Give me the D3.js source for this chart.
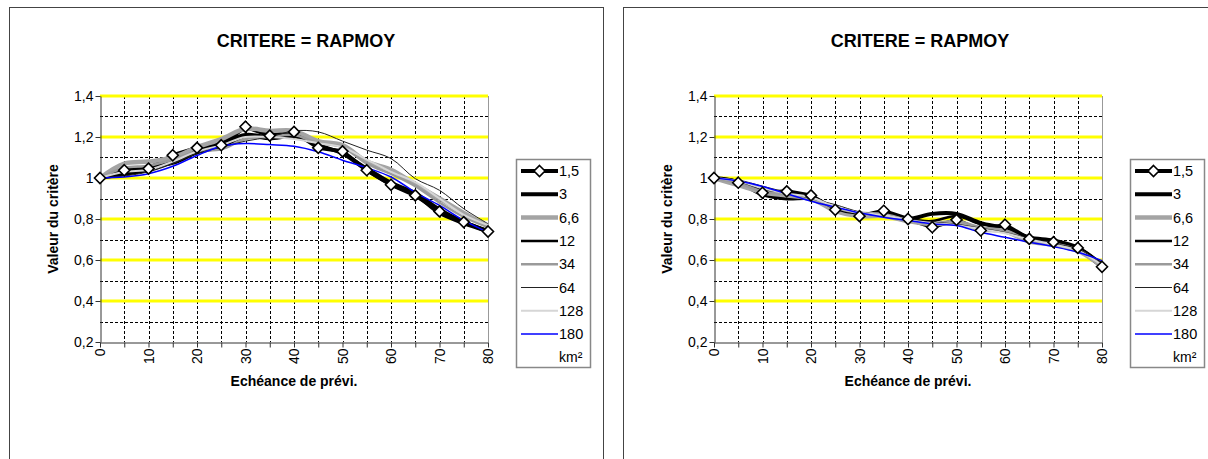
<!DOCTYPE html>
<html>
<head>
<meta charset="utf-8">
<script src="https://cdn.jsdelivr.net/npm/d3@7/dist/d3.min.js"></script>
<style>
    body { margin: 0; background: #fff; }
    svg { display: block; font-family: "Liberation Sans", Arial, sans-serif; }
</style>
</head>
<body>
<svg id="chart" width="1208" height="459"></svg>
<script>
(function () {
    'use strict';

    // échéances (x) et surfaces (légende)
    var echeances = [0, 5, 10, 15, 20, 25, 30, 35, 40, 45, 50, 55, 60, 65, 70, 75, 80];
    var surfaces = ["1,5", "3", "6,6", "12", "34", "64", "128", "180"];
    var yTicks = [0.2, 0.4, 0.6, 0.8, 1, 1.2, 1.4];
    var yDashed = [0.3, 0.5, 0.7, 0.9, 1.1, 1.3];

    // panneau de gauche
    var g1_5 = [1.0, 1.038, 1.046, 1.111, 1.147, 1.16, 1.25, 1.207, 1.225, 1.147, 1.13, 1.038, 0.967, 0.915, 0.837, 0.785, 0.739];
    var g3 = [1.0, 1.02, 1.04, 1.08, 1.13, 1.17, 1.21, 1.2, 1.21, 1.16, 1.12, 1.04, 0.97, 0.92, 0.83, 0.78, 0.74];
    var g6_6 = [1.0, 1.07, 1.08, 1.1, 1.15, 1.19, 1.24, 1.23, 1.23, 1.18, 1.16, 1.08, 1.04, 0.97, 0.9, 0.83, 0.765];
    var g12 = [1.0, 1.02, 1.05, 1.07, 1.12, 1.15, 1.2, 1.19, 1.2, 1.16, 1.12, 1.05, 0.98, 0.93, 0.85, 0.79, 0.745];
    var g34 = [1.0, 1.05, 1.06, 1.09, 1.13, 1.14, 1.19, 1.2, 1.21, 1.17, 1.15, 1.07, 1.02, 0.96, 0.88, 0.81, 0.76];
    var g64 = [1.0, 1.01, 1.03, 1.07, 1.12, 1.15, 1.18, 1.2, 1.23, 1.225, 1.18, 1.136, 1.095, 0.997, 0.94, 0.85, 0.777];
    var g128 = [1.0, 1.03, 1.04, 1.08, 1.13, 1.16, 1.2, 1.2, 1.19, 1.17, 1.15, 1.09, 1.03, 0.98, 0.9, 0.82, 0.77];
    var g180 = [1.0, 1.005, 1.021, 1.057, 1.11, 1.155, 1.168, 1.163, 1.155, 1.128, 1.087, 1.05, 1.005, 0.93, 0.866, 0.793, 0.735];

    // panneau de droite
    var d1_5 = [1.0, 0.977, 0.928, 0.935, 0.915, 0.845, 0.814, 0.84, 0.8, 0.76, 0.796, 0.744, 0.772, 0.703, 0.687, 0.659, 0.567];
    var d3_ = [1.0, 0.98, 0.92, 0.9, 0.9, 0.845, 0.82, 0.82, 0.8, 0.825, 0.825, 0.78, 0.755, 0.71, 0.695, 0.66, 0.575];
    var d6_6 = [1.0, 0.965, 0.93, 0.915, 0.9, 0.84, 0.815, 0.815, 0.79, 0.775, 0.78, 0.75, 0.74, 0.69, 0.675, 0.645, 0.57];
    var d12 = [1.0, 0.985, 0.94, 0.925, 0.91, 0.85, 0.825, 0.83, 0.8, 0.79, 0.815, 0.775, 0.76, 0.7, 0.69, 0.66, 0.58];
    var d34 = [1.0, 0.975, 0.935, 0.92, 0.905, 0.855, 0.83, 0.825, 0.795, 0.78, 0.79, 0.76, 0.745, 0.695, 0.68, 0.65, 0.575];
    var d64 = [1.0, 0.99, 0.96, 0.93, 0.9, 0.87, 0.835, 0.82, 0.8, 0.785, 0.775, 0.755, 0.735, 0.705, 0.68, 0.655, 0.58];
    var d128 = [1.0, 0.985, 0.95, 0.925, 0.905, 0.86, 0.83, 0.82, 0.795, 0.78, 0.77, 0.75, 0.73, 0.7, 0.675, 0.645, 0.575];
    var d180 = [1.0, 0.985, 0.959, 0.923, 0.887, 0.858, 0.83, 0.809, 0.793, 0.776, 0.768, 0.735, 0.711, 0.687, 0.665, 0.638, 0.597];

    // style de chaque série (dans l'ordre de la légende)
    var styles = [
        { color: "#000", width: 4, marker: true },
        { color: "#000", width: 4 },
        { color: "#a4a4a4", width: 4.5 },
        { color: "#000", width: 2.5 },
        { color: "#9a9a9a", width: 2.5 },
        { color: "#222", width: 1 },
        { color: "#d6d6d6", width: 2 },
        { color: "#0000ff", width: 1.5 }
    ];

    var svg = d3.select("#chart");
    var diamond = "M0,-5.5L5.5,0L0,5.5L-5.5,0Z";

    function fmt(v) {
        return String(+v.toFixed(1)).replace(".", ",");
    }

    function drawPanel(ox, series) {
        var p = svg.append("g");

        // cadre du graphique
        p.append("rect")
            .attr("x", ox + 0.5).attr("y", 7.5)
            .attr("width", 594).attr("height", 470)
            .attr("fill", "#fff").attr("stroke", "#444");

        var x = d3.scaleLinear().domain([0, 80]).range([ox + 91, ox + 479]);
        var y = d3.scaleLinear().domain([0.2, 1.4]).range([342, 96]);

        // quadrillage
        p.selectAll(".vgrid")
            .data(echeances.filter(function (d) { return d > 0 && d < 80; }))
            .enter().append("line")
            .attr("x1", function (d) { return Math.round(x(d)) + 0.5; })
            .attr("x2", function (d) { return Math.round(x(d)) + 0.5; })
            .attr("y1", y(1.4)).attr("y2", y(0.2))
            .attr("stroke", "#000").attr("stroke-dasharray", "3,2");

        p.selectAll(".hgrid")
            .data(yDashed)
            .enter().append("line")
            .attr("x1", x(0)).attr("x2", x(80))
            .attr("y1", function (d) { return Math.round(y(d)) + 0.5; })
            .attr("y2", function (d) { return Math.round(y(d)) + 0.5; })
            .attr("stroke", "#000").attr("stroke-dasharray", "3,2");

        p.selectAll(".yellow")
            .data(yTicks.filter(function (d) { return d > 0.3; }))
            .enter().append("line")
            .attr("x1", x(0)).attr("x2", x(80))
            .attr("y1", function (d) { return Math.round(y(d)); })
            .attr("y2", function (d) { return Math.round(y(d)); })
            .attr("stroke", "#ffff00").attr("stroke-width", 3);

        p.append("line")
            .attr("x1", Math.round(x(80)) + 0.5).attr("x2", Math.round(x(80)) + 0.5)
            .attr("y1", y(1.4)).attr("y2", y(0.2))
            .attr("stroke", "#999");

        // axes
        var ax = p.append("g")
            .attr("transform", "translate(0," + (Math.round(y(0.2)) + 0.5) + ")")
            .call(d3.axisBottom(x).tickValues(echeances).tickSize(5).tickSizeOuter(0)
                .tickFormat(function (d) { return d % 10 === 0 ? d : ""; }));
        ax.selectAll("text")
            .attr("transform", "rotate(-90)")
            .attr("x", -6).attr("y", 0).attr("dy", "0.35em")
            .attr("text-anchor", "end");

        var ay = p.append("g")
            .attr("transform", "translate(" + (Math.round(x(0)) + 0.5) + ",0)")
            .call(d3.axisLeft(y).tickValues(yTicks).tickSize(5).tickSizeOuter(0).tickFormat(fmt));

        [ax, ay].forEach(function (a) {
            a.select(".domain").attr("stroke", "#333");
            a.selectAll("line").attr("stroke", "#333");
            a.selectAll("text").attr("fill", "#000")
                .style("font-size", "14px")
                .style("font-family", "'Liberation Sans', Arial, sans-serif");
        });
        ay.selectAll("text").attr("x", -7);

        // courbes
        var lineLin = d3.line()
            .x(function (d, i) { return x(echeances[i]); })
            .y(function (d) { return y(d); });
        var lineSmooth = d3.line()
            .x(function (d, i) { return x(echeances[i]); })
            .y(function (d) { return y(d); })
            .curve(d3.curveCatmullRom.alpha(0.5));

        series.forEach(function (s, k) {
            var st = styles[k];
            p.append("path")
                .attr("d", (st.marker ? lineLin : lineSmooth)(s))
                .attr("fill", "none")
                .attr("stroke", st.color)
                .attr("stroke-width", st.width)
                .attr("stroke-linejoin", "round");
        });

        p.selectAll(".mk")
            .data(series[0])
            .enter().append("path")
            .attr("d", diamond)
            .attr("transform", function (d, i) { return "translate(" + x(echeances[i]) + "," + y(d) + ")"; })
            .attr("fill", "#fff").attr("stroke", "#000").attr("stroke-width", 1.6);

        // titres
        p.append("text")
            .attr("x", ox + 297).attr("y", 47)
            .attr("text-anchor", "middle")
            .style("font-size", "18px").style("font-weight", "bold")
            .text("CRITERE = RAPMOY");

        p.append("text")
            .attr("transform", "translate(" + (ox + 44) + "," + 219 + ") rotate(-90)")
            .attr("text-anchor", "middle")
            .attr("dy", "0.35em")
            .style("font-size", "14px").style("font-weight", "bold")
            .text("Valeur du critère");

        p.append("text")
            .attr("x", (x(0) + x(80)) / 2).attr("y", 386)
            .attr("text-anchor", "middle")
            .style("font-size", "14px").style("font-weight", "bold")
            .text("Echéance de prévi.");

        // légende
        var lg = p.append("g");
        lg.append("rect")
            .attr("x", ox + 507.5).attr("y", 159.5)
            .attr("width", 74).attr("height", 208)
            .attr("fill", "#fff").attr("stroke", "#888").attr("stroke-width", 1.5);

        var item = lg.selectAll(".item")
            .data(surfaces)
            .enter().append("g")
            .attr("transform", function (d, i) { return "translate(0," + (171 + i * 23.3) + ")"; });

        item.append("line")
            .attr("x1", ox + 512).attr("x2", ox + 549)
            .attr("stroke", function (d, i) { return styles[i].color; })
            .attr("stroke-width", function (d, i) { return styles[i].width; });

        item.filter(function (d, i) { return styles[i].marker; })
            .append("path")
            .attr("d", diamond)
            .attr("transform", "translate(" + (ox + 530.5) + ",0)")
            .attr("fill", "#fff").attr("stroke", "#000").attr("stroke-width", 1.6);

        item.append("text")
            .attr("x", ox + 550).attr("dy", "0.35em")
            .style("font-size", "14.5px")
            .text(function (d) { return d; });

        lg.append("text")
            .attr("x", ox + 550).attr("y", 171 + 8 * 23.3).attr("dy", "0.35em")
            .style("font-size", "14px")
            .text("km²");
    }

    drawPanel(9, [g1_5, g3, g6_6, g12, g34, g64, g128, g180]);
    drawPanel(623, [d1_5, d3_, d6_6, d12, d34, d64, d128, d180]);
})();
</script>
</body>
</html>
